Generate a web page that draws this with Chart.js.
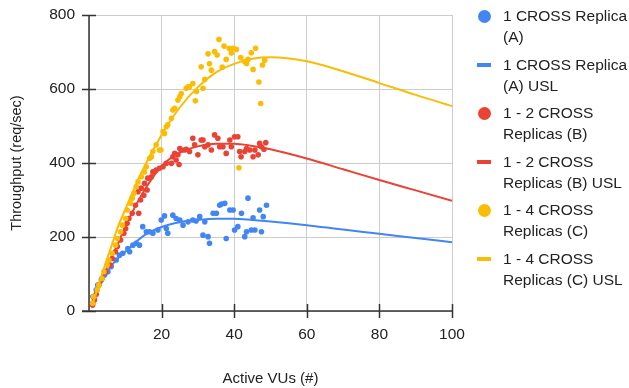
<!DOCTYPE html>
<html>
<head>
<meta charset="utf-8">
<script src="https://cdn.jsdelivr.net/npm/chart.js@4.4.1/dist/chart.umd.min.js"></script>
<style>
  html, body { margin: 0; padding: 0; background: #fff; }
  #wrap { position: relative; width: 629px; height: 388px; }
  #legend { position: absolute; left: 0; top: 0; font-family: "Liberation Sans", Arial, sans-serif; font-size: 15.5px; color: #222; }
  .item { position: absolute; left: 503px; line-height: 21px; white-space: nowrap; }
  .dot { position: absolute; width: 13px; height: 13px; border-radius: 50%; }
  .dash { position: absolute; width: 14px; height: 4px; }
</style>
</head>
<body>
<div id="wrap">
  <canvas id="chart" width="629" height="388"></canvas>
  <div id="legend"></div>
</div>
<script>
// measured points (x = active VUs, y = req/sec)
const aX = [1, 1.1, 2, 2.4, 3.4, 4.3, 5.2, 6.1, 7.5, 8.4, 9.3, 10.7, 11.2, 12.1, 13, 13.9, 14.8, 15.8, 16.7, 17.6, 19, 19.9, 20.8, 21.3, 21.7, 23.1, 24, 25, 25.9, 27.3, 28.6, 29.5, 30.5, 31.4, 31.9, 32.8, 33.2, 34.2, 35.1, 36, 36.5, 37.4, 37.8, 38.8, 39.7, 40.1, 41, 42, 42.9, 43.4, 43.8, 44.7, 45.2, 45.7, 47, 47.5, 48, 48.9];
const aY = [20, 39, 57, 70, 84, 97, 106, 120, 138, 151, 156, 169, 160, 178, 183, 178, 228, 214, 214, 210, 219, 246, 257, 223, 210, 259, 250, 246, 232, 241, 246, 243, 255, 205, 241, 201, 183, 264, 264, 286, 289, 291, 196, 273, 273, 219, 228, 264, 201, 214, 305, 219, 252, 219, 273, 214, 255, 286];

const bX = [1, 1.5, 2, 2.7, 3.6, 4.6, 5.9, 6.4, 7.3, 7.8, 8.7, 9.6, 10.1, 10.5, 11, 11.9, 12.8, 13.5, 13.7, 14.2, 14.4, 15.1, 15.3, 16, 16.2, 17.2, 17.6, 18.5, 19.4, 20.4, 21.3, 22.7, 23.1, 23.6, 24, 24.5, 24.8, 25, 25.4, 26.3, 26.8, 27.7, 28.6, 29.1, 30, 30.9, 31.4, 31.9, 32.8, 33.7, 34.6, 35.5, 36, 36.9, 37.8, 38.8, 39.2, 40.1, 41, 41.5, 41.9, 42.9, 43.4, 44.3, 45.2, 45.7, 46.6, 47, 47.5, 48.2, 48.7];
const bY = [16, 30, 45, 70, 88, 106, 124, 142, 160, 174, 192, 210, 223, 237, 250, 264, 286, 322, 264, 300, 332, 313, 345, 327, 359, 363, 376, 381, 386, 390, 399, 399, 417, 426, 408, 422, 396, 439, 435, 435, 437, 431, 467, 449, 422, 462, 462, 444, 449, 435, 476, 467, 444, 444, 426, 462, 444, 471, 471, 431, 417, 431, 439, 435, 417, 435, 422, 453, 444, 437, 455];

const cX = [1, 1.3, 2.3, 2.7, 3.6, 4.1, 5, 5.5, 6.4, 7.3, 7.8, 8.7, 9.2, 10.1, 10.5, 11.4, 11.9, 12.4, 13, 13.5, 14.4, 15.3, 15.8, 16.7, 17.2, 17.6, 18.5, 19.4, 19.8, 20.4, 20.8, 21.3, 21.7, 22.7, 23.1, 23.6, 24.5, 25, 25.4, 26.8, 27.3, 27.7, 28.6, 29.3, 29.6, 30.9, 31.4, 31.9, 32.8, 33.2, 33.7, 34.6, 35.3, 35.8, 36.7, 37.2, 37.8, 38.6, 39.2, 39.7, 40.6, 41.3, 41.8, 42.9, 43.4, 43.8, 44.7, 45.2, 45.9, 46.8, 47.3, 47.8, 48.4];
const cY = [21, 39, 57, 70, 88, 106, 124, 138, 156, 178, 196, 214, 232, 250, 273, 291, 305, 318, 336, 349, 363, 376, 390, 413, 417, 431, 449, 435, 435, 485, 480, 498, 503, 521, 543, 548, 570, 579, 588, 602, 606, 606, 615, 568, 593, 660, 602, 626, 695, 668, 651, 701, 692, 734, 659, 716, 680, 710, 697, 710, 707, 387, 685, 674, 669, 680, 698, 653, 710, 619, 561, 665, 678];

// USL fitted curves
const uslX = [1, 2, 4, 6, 8, 10, 15, 20, 25, 30, 35, 40, 45, 50, 60, 70, 80, 90, 100];
const uslA = [18, 45, 88, 120, 143, 160, 203, 227, 240, 246, 249, 249, 246, 242, 232, 220, 209, 197, 186];
const uslB = [18, 45, 95, 140, 183, 228, 322, 392, 428, 445, 452, 452, 446, 437, 412, 383, 354, 326, 298];
const uslC = [18, 50, 112, 170, 228, 275, 385, 476, 550, 605, 645, 668, 682, 686, 675, 648, 616, 584, 554];

const xTicks = [20, 40, 60, 80, 100];
const yTicks = [0, 200, 400, 600, 800];

const blue = '#4285f4', red = '#ea4335', yellow = '#fbbc04';
const font = '"Liberation Sans", Arial, sans-serif';

const pts = (xs, ys) => xs.map((x, i) => ({ x: x, y: ys[i] }));

function scatterSet(label, xs, ys, color, order) {
  return { label: label, data: pts(xs, ys), showLine: false, backgroundColor: color,
    borderWidth: 0, pointRadius: 2.8, pointHoverRadius: 2.8, order: order };
}
function lineSet(label, ys, color, order) {
  return { label: label, data: pts(uslX, ys), showLine: true, borderColor: color, backgroundColor: color,
    borderWidth: 2, pointRadius: 0, cubicInterpolationMode: 'monotone', order: order };
}

// axis lines and crossing tick marks
const axesPlugin = {
  id: 'axes',
  beforeDatasetsDraw(chart) {
    const ctx = chart.ctx, x = chart.scales.x, y = chart.scales.y;
    const x0 = x.getPixelForValue(0), y0 = y.getPixelForValue(0);
    ctx.save();
    ctx.strokeStyle = '#333';
    ctx.lineWidth = 1.5;
    ctx.beginPath();
    ctx.moveTo(x0 - 7, y0); ctx.lineTo(x.right, y0);
    ctx.moveTo(x0, y.top); ctx.lineTo(x0, y0);
    yTicks.forEach(v => { const p = Math.round(y.getPixelForValue(v)) + 0.5; ctx.moveTo(x0 - 7, p); ctx.lineTo(x0 + 7, p); });
    xTicks.forEach(v => { const p = Math.round(x.getPixelForValue(v)) + 0.5; ctx.moveTo(p, y0 - 7); ctx.lineTo(p, y0 + 7); });
    ctx.stroke();
    ctx.restore();
  }
};

new Chart(document.getElementById('chart'), {
  type: 'scatter',
  data: {
    datasets: [
      scatterSet('1 CROSS Replica (A)', aX, aY, blue, 6),
      lineSet('1 CROSS Replica (A) USL', uslA, blue, 5),
      scatterSet('1 - 2 CROSS Replicas (B)', bX, bY, red, 4),
      lineSet('1 - 2 CROSS Replicas (B) USL', uslB, red, 3),
      scatterSet('1 - 4 CROSS Replicas (C)', cX, cY, yellow, 2),
      lineSet('1 - 4 CROSS Replicas (C) USL', uslC, yellow, 1)
    ]
  },
  options: {
    responsive: false,
    animation: false,
    layout: { padding: { left: 0, top: 15, right: 177, bottom: 0 } },
    plugins: { legend: { display: false }, tooltip: { enabled: false } },
    scales: {
      x: {
        type: 'linear', min: 0, max: 100,
        afterFit: s => { s.height = 77; s.paddingLeft = 0; s.paddingRight = 0; },
        afterBuildTicks: s => { s.ticks = [0].concat(xTicks).map(v => ({ value: v })); },
        grid: { color: '#cccccc', drawTicks: false },
        border: { display: false },
        ticks: { padding: 14, color: '#222', font: { family: font, size: 15.5 }, maxRotation: 0,
          callback: v => v === 0 ? '' : v },
        title: { display: true, text: 'Active VUs (#)', color: '#222', font: { family: font, size: 15 }, padding: { top: 2, bottom: 0 } }
      },
      y: {
        type: 'linear', min: 0, max: 800,
        afterFit: s => { s.width = 89; s.paddingTop = 0; s.paddingBottom = 0; },
        afterBuildTicks: s => { s.ticks = yTicks.map(v => ({ value: v })); },
        grid: { color: '#cccccc', drawTicks: false },
        border: { display: false },
        ticks: { padding: 14, color: '#222', font: { family: font, size: 15.5 } },
        title: { display: true, text: 'Throughput (req/sec)', color: '#222', font: { family: font, size: 14.5 }, padding: { top: 8, bottom: 0 } }
      }
    }
  },
  plugins: [axesPlugin]
});

// legend on the right, wrapped like the original
const legendItems = [
  { text: ['1 CROSS Replica', '(A)'], color: blue, kind: 'dot' },
  { text: ['1 CROSS Replica', '(A) USL'], color: blue, kind: 'dash' },
  { text: ['1 - 2 CROSS', 'Replicas (B)'], color: red, kind: 'dot' },
  { text: ['1 - 2 CROSS', 'Replicas (B) USL'], color: red, kind: 'dash' },
  { text: ['1 - 4 CROSS', 'Replicas (C)'], color: yellow, kind: 'dot' },
  { text: ['1 - 4 CROSS', 'Replicas (C) USL'], color: yellow, kind: 'dash' }
];
const legend = document.getElementById('legend');
legendItems.forEach((it, i) => {
  const top = 5 + i * 48.5;
  const m = document.createElement('div');
  m.className = it.kind;
  m.style.background = it.color;
  if (it.kind === 'dot') { m.style.left = '478px'; m.style.top = (top + 5) + 'px'; }
  else { m.style.left = '477px'; m.style.top = (top + 9) + 'px'; }
  legend.appendChild(m);
  const t = document.createElement('div');
  t.className = 'item';
  t.style.top = top + 'px';
  t.innerHTML = it.text.join('<br>');
  legend.appendChild(t);
});
</script>
</body>
</html>
